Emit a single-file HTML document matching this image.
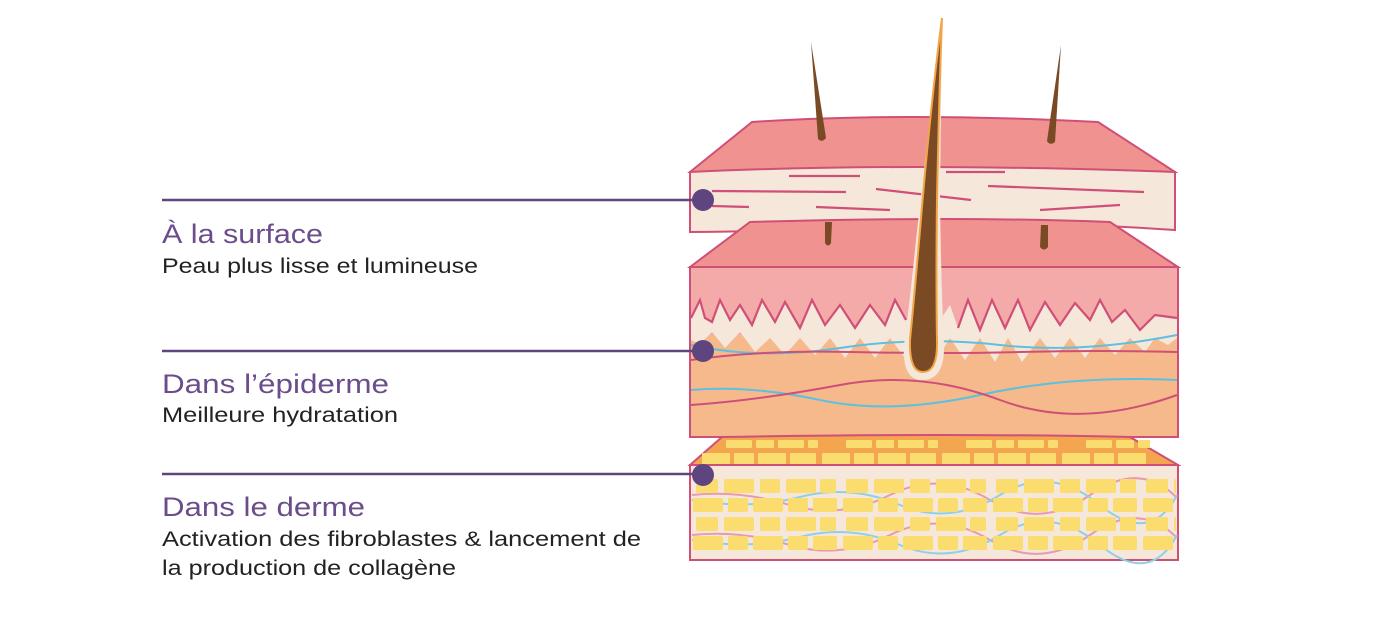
<!DOCTYPE html>
<html><head><meta charset="utf-8"><style>html,body{margin:0;padding:0;background:#fff}svg{display:block}</style></head>
<body>
<svg width="1400" height="625" viewBox="0 0 1400 625" xmlns="http://www.w3.org/2000/svg" font-family="Liberation Sans, sans-serif">
<defs>
<pattern id="br" x="690" y="477" width="150" height="38" patternUnits="userSpaceOnUse">
<rect x="6" y="2" width="22" height="14" rx="2" fill="#fbdc6e"/>
<rect x="34" y="2" width="30" height="14" rx="2" fill="#fbdc6e"/>
<rect x="70" y="2" width="20" height="14" rx="2" fill="#fbdc6e"/>
<rect x="96" y="2" width="30" height="14" rx="2" fill="#fbdc6e"/>
<rect x="130" y="2" width="16" height="14" rx="2" fill="#fbdc6e"/>
<rect x="3" y="21" width="30" height="14" rx="2" fill="#fbdc6e"/>
<rect x="38" y="21" width="20" height="14" rx="2" fill="#fbdc6e"/>
<rect x="63" y="21" width="30" height="14" rx="2" fill="#fbdc6e"/>
<rect x="98" y="21" width="20" height="14" rx="2" fill="#fbdc6e"/>
<rect x="123" y="21" width="24" height="14" rx="2" fill="#fbdc6e"/>
</pattern>
<pattern id="br2" x="700" y="439" width="120" height="28" patternUnits="userSpaceOnUse">
<rect x="26" y="1" width="26" height="8" rx="1" fill="#fbdc6e"/>
<rect x="56" y="1" width="18" height="8" rx="1" fill="#fbdc6e"/>
<rect x="78" y="1" width="26" height="8" rx="1" fill="#fbdc6e"/>
<rect x="108" y="1" width="10" height="8" rx="1" fill="#fbdc6e"/>
<rect x="2" y="14" width="28" height="11" rx="1" fill="#fbdc6e"/>
<rect x="34" y="14" width="20" height="11" rx="1" fill="#fbdc6e"/>
<rect x="58" y="14" width="28" height="11" rx="1" fill="#fbdc6e"/>
<rect x="90" y="14" width="26" height="11" rx="1" fill="#fbdc6e"/>
</pattern>
</defs>

<!-- top slab -->
<path d="M690,172 L752,122 Q900,112 1098,122 L1175,172 Z" fill="#f0928f" stroke="#cf4f77" stroke-width="2"/>
<!-- small hairs -->
<path d="M811,42 L826,138 Q822,143 818,139 Z" fill="#7a4a25"/>
<path d="M1061,45 L1055,142 Q1050,146 1047,141 Z" fill="#7a4a25"/>
<path d="M690,172 Q900,162 1175,172 L1175,230 Q1000,218 860,226 Q760,232 690,232 Z" fill="#f5e8da" stroke="#cf4f77" stroke-width="2"/>
<g stroke="#cf4f77" stroke-width="2.2" fill="none">
<path d="M789,176 L860,176"/><path d="M712,191 L846,192"/><path d="M876,189 L971,200"/><path d="M946,172 L1005,172"/><path d="M988,186 L1144,192"/>
<path d="M712,206 L749,207"/><path d="M816,207 L890,210"/><path d="M1040,210 L1120,205"/>
</g>

<!-- second slab -->
<path d="M690,267 L750,222 Q950,216 1110,222 L1178,267 Z" fill="#f0928f" stroke="#cf4f77" stroke-width="2"/>
<path d="M825,222 L832,222 L831,243 Q828,248 825,243 Z" fill="#7a4a25"/>
<path d="M1041,225 L1048,225 L1048,247 Q1044,252 1040,247 Z" fill="#7a4a25"/>
<rect x="690" y="267" width="488" height="170" fill="#f5b98c" stroke="#cf4f77" stroke-width="2"/>
<path d="M691,268 L1177,268 L1177,335 L691,335 Z" fill="#f4aaa9"/>
<path d="M691,318 L700,300 L705,318 L712,322 L720,300 L730,320 L740,305 L752,325 L762,300 L775,322 L785,302 L800,328 L812,300 L825,325 L840,305 L855,328 L870,305 L885,325 L895,300 L906,320 L940,320 L950,305 L958,328 L968,300 L980,330 L992,300 L1005,328 L1018,300 L1030,330 L1045,302 L1060,325 L1075,303 L1090,320 L1100,300 L1112,322 L1125,310 L1140,330 L1155,315 L1177,318 L1177,338 L1168,345 L1155,338 L1145,352 L1130,338 L1115,355 L1100,338 L1085,358 L1070,338 L1055,358 L1040,338 L1022,362 L1008,338 L995,362 L980,338 L965,360 L950,338 L935,362 L920,340 L905,358 L890,338 L875,358 L860,338 L845,358 L830,338 L815,355 L800,338 L785,355 L770,338 L755,352 L740,332 L725,348 L712,332 L700,344 L691,340 Z" fill="#f5e8da" stroke="none"/>
<path d="M691,318 L700,300 L705,318 L712,322 L720,300 L730,320 L740,305 L752,325 L762,300 L775,322 L785,302 L800,328 L812,300 L825,325 L840,305 L855,328 L870,305 L885,325 L895,300 L906,320 M958,328 L968,300 L980,330 L992,300 L1005,328 L1018,300 L1030,330 L1045,302 L1060,325 L1075,303 L1090,320 L1100,300 L1112,322 L1125,310 L1140,330 L1155,315 L1177,318" fill="none" stroke="#cf4f77" stroke-width="2.2"/>
<g fill="none" stroke-width="2">
<path d="M691,345 Q760,360 840,348 T1000,345 T1177,335" stroke="#5ec0df"/>
<path d="M691,360 Q760,350 850,352 T1020,352 T1177,352" stroke="#cf4f77"/>
<path d="M691,390 Q750,385 820,400 T980,395 T1177,380" stroke="#5ec0df"/>
<path d="M691,405 Q760,400 840,385 T1000,400 T1177,395" stroke="#cf4f77"/>
</g>

<!-- central hair -->
<path d="M942,18 Q926,150 916,240 Q910,300 904,345 Q902,380 922,380 Q945,380 944,345 Q941,280 940,200 Z" fill="#f5e8da"/>
<path d="M942,18 Q930,110 920,230 Q914,300 910,340 Q909,372 923,372 Q938,372 937,340 Q936,280 937,200 Q939,100 942,18 Z" fill="#7a4a25" stroke="#f2a547" stroke-width="2"/>

<!-- fat slab -->
<path d="M690,465 L722,437 Q950,433 1130,437 L1178,465 Z" fill="#f3a64f" stroke="#cf4f77" stroke-width="2"/>
<rect x="700" y="439" width="450" height="26" fill="url(#br2)"/>
<rect x="690" y="465" width="488" height="95" fill="#f5e8da" stroke="#cf4f77" stroke-width="2"/>
<g fill="none" stroke-width="2">
<path d="M692,495 Q740,490 790,505 T890,495 T990,500 T1090,495 T1177,498" stroke="#e89ab0"/>
<path d="M692,500 Q750,510 800,497 T900,505 T1000,495 T1100,505 T1177,495" stroke="#8fd0e6"/>
<path d="M692,535 Q740,530 790,545 T890,535 T990,540 T1090,535 T1177,538" stroke="#e89ab0"/>
<path d="M692,540 Q750,550 800,537 T900,545 T1000,535 T1100,545 T1177,535" stroke="#8fd0e6"/>
</g>
<rect x="692" y="477" width="484" height="78" fill="url(#br)"/>

<!-- leader lines -->
<g stroke="#5e4580" stroke-width="2.5">
<line x1="162" y1="200" x2="700" y2="200"/>
<line x1="162" y1="351" x2="700" y2="351"/>
<line x1="162" y1="474" x2="700" y2="474"/>
</g>
<g fill="#5e4580">
<circle cx="703" cy="200" r="11"/><circle cx="703" cy="351" r="11"/><circle cx="703" cy="475" r="11"/>
</g>

<!-- labels -->
<g fill="#6b4d8c" font-size="27">
<text x="162" y="243" textLength="161" lengthAdjust="spacingAndGlyphs">À la surface</text>
<text x="162" y="393" textLength="227" lengthAdjust="spacingAndGlyphs">Dans l’épiderme</text>
<text x="162" y="516" textLength="203" lengthAdjust="spacingAndGlyphs">Dans le derme</text>
</g>
<g fill="#222" font-size="21">
<text x="162" y="273" textLength="316" lengthAdjust="spacingAndGlyphs">Peau plus lisse et lumineuse</text>
<text x="162" y="422" textLength="236" lengthAdjust="spacingAndGlyphs">Meilleure hydratation</text>
<text x="162" y="546" textLength="479" lengthAdjust="spacingAndGlyphs">Activation des fibroblastes &amp; lancement de</text>
<text x="162" y="575" textLength="294" lengthAdjust="spacingAndGlyphs">la production de collagène</text>
</g>
</svg>
</body></html>
